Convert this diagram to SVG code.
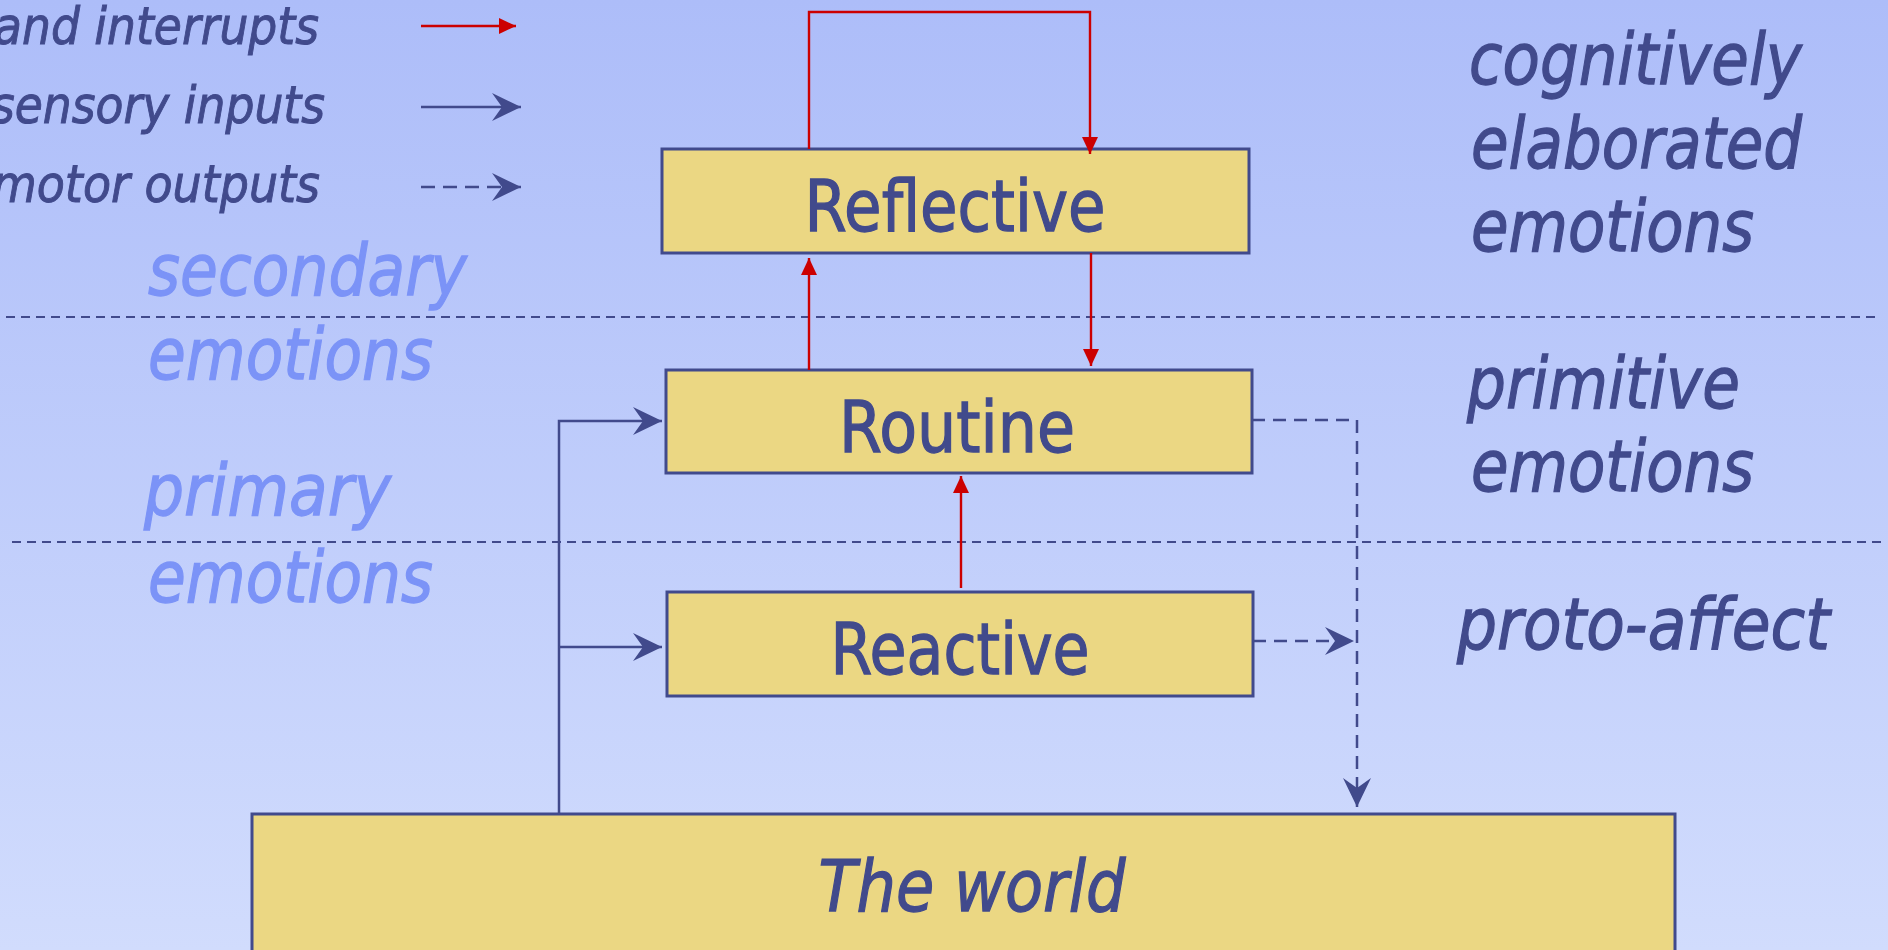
<svg xmlns="http://www.w3.org/2000/svg" width="1888" height="950" viewBox="0 0 1888 950">
<defs>
<linearGradient id="bg" x1="0" y1="0" x2="0" y2="1">
<stop offset="0" stop-color="#adbdf9"/>
<stop offset="1" stop-color="#d1dcfd"/>
</linearGradient>
<marker id="red" markerUnits="userSpaceOnUse" markerWidth="18" markerHeight="16" refX="17" refY="8" orient="auto" viewBox="0 0 18 16">
<path d="M0,0 L17,8 L0,16 Z" fill="#cc0000"/>
</marker>
<marker id="stealth" markerUnits="userSpaceOnUse" markerWidth="30" markerHeight="30" refX="29" refY="15" orient="auto" viewBox="0 0 30 30">
<path d="M29,15 L0,1 L10,15 L0,29 Z" fill="#414a8c"/>
</marker>
</defs>
<style>
.t{font-family:"DejaVu Sans","Liberation Sans",sans-serif;fill:#414a8c;stroke:#414a8c;stroke-width:1.3;font-size:72px}
.i{font-style:italic}
.lb{fill:#7b93f7;stroke:#7b93f7}
.lg{font-size:52px;stroke-width:1}
.box{fill:#ebd783;stroke:#414a8c;stroke-width:3}
.sep{stroke:#414a8c;stroke-width:2.2;stroke-dasharray:9 6;fill:none}
.rd{stroke:#cc0000;stroke-width:2.4;fill:none;marker-end:url(#red)}
.bl{stroke:#414a8c;stroke-width:2.5;fill:none}
.ba{marker-end:url(#stealth)}
.dsh{stroke-dasharray:13 8}
</style>
<rect width="1888" height="950" fill="url(#bg)"/>

<g id="separators">
<line class="sep" x1="6" y1="317" x2="1876" y2="317"/>
<line class="sep" x1="12" y1="542" x2="1884" y2="542"/>
</g>

<g id="legend">
<text class="t i lg" x="319" y="44" text-anchor="end" textLength="325" lengthAdjust="spacingAndGlyphs">and interrupts</text>
<text class="t i lg" x="325" y="123" text-anchor="end" textLength="334" lengthAdjust="spacingAndGlyphs">sensory inputs</text>
<text class="t i lg" x="320" y="202" text-anchor="end" textLength="328" lengthAdjust="spacingAndGlyphs">motor outputs</text>
<line class="rd" x1="421" y1="26" x2="516" y2="26"/>
<line class="bl ba" x1="421" y1="107" x2="521" y2="107"/>
<line class="bl ba" x1="421" y1="187" x2="521" y2="187" stroke-dasharray="14 8"/>
</g>

<g id="labels-left">
<text class="t i lb" x="148" y="295" textLength="319" lengthAdjust="spacingAndGlyphs">secondary</text>
<text class="t i lb" x="148" y="379" textLength="285" lengthAdjust="spacingAndGlyphs">emotions</text>
<text class="t i lb" x="144" y="515" textLength="247" lengthAdjust="spacingAndGlyphs">primary</text>
<text class="t i lb" x="148" y="602" textLength="285" lengthAdjust="spacingAndGlyphs">emotions</text>
</g>

<g id="labels-right">
<text class="t i" x="1469" y="84" textLength="333" lengthAdjust="spacingAndGlyphs">cognitively</text>
<text class="t i" x="1471" y="168" textLength="331" lengthAdjust="spacingAndGlyphs">elaborated</text>
<text class="t i" x="1471" y="251" textLength="283" lengthAdjust="spacingAndGlyphs">emotions</text>
<text class="t i" x="1467" y="408" textLength="273" lengthAdjust="spacingAndGlyphs">primitive</text>
<text class="t i" x="1471" y="491" textLength="283" lengthAdjust="spacingAndGlyphs">emotions</text>
<text class="t i" x="1457" y="649" textLength="373" lengthAdjust="spacingAndGlyphs">proto-affect</text>
</g>

<g id="reflective">
<rect class="box" x="662" y="149" width="587" height="104"/>
<text class="t" x="955" y="231" text-anchor="middle" textLength="301" lengthAdjust="spacingAndGlyphs">Reflective</text>
</g>
<g id="routine">
<rect class="box" x="666" y="370" width="586" height="103"/>
<text class="t" x="957" y="452" text-anchor="middle" textLength="236" lengthAdjust="spacingAndGlyphs">Routine</text>
</g>
<g id="reactive">
<rect class="box" x="667" y="592" width="586" height="104"/>
<text class="t" x="960" y="674" text-anchor="middle" textLength="259" lengthAdjust="spacingAndGlyphs">Reactive</text>
</g>
<g id="world">
<rect class="box" x="252" y="814" width="1423" height="150"/>
<text class="t i" x="972" y="911" text-anchor="middle" textLength="307" lengthAdjust="spacingAndGlyphs">The world</text>
</g>

<g id="connectors">
<path class="rd" d="M809,149 V12 H1090 V154"/>
<line class="rd" x1="809" y1="370" x2="809" y2="258"/>
<line class="rd" x1="1091" y1="253" x2="1091" y2="366"/>
<line class="rd" x1="961" y1="588" x2="961" y2="476"/>
<path class="bl ba" d="M559,814 V421 H662"/>
<line class="bl ba" x1="559" y1="647" x2="662" y2="647"/>
<path class="bl ba dsh" d="M1252,420 H1357 V807"/>
<line class="bl ba dsh" x1="1253" y1="641" x2="1354" y2="641"/>
</g>
</svg>
